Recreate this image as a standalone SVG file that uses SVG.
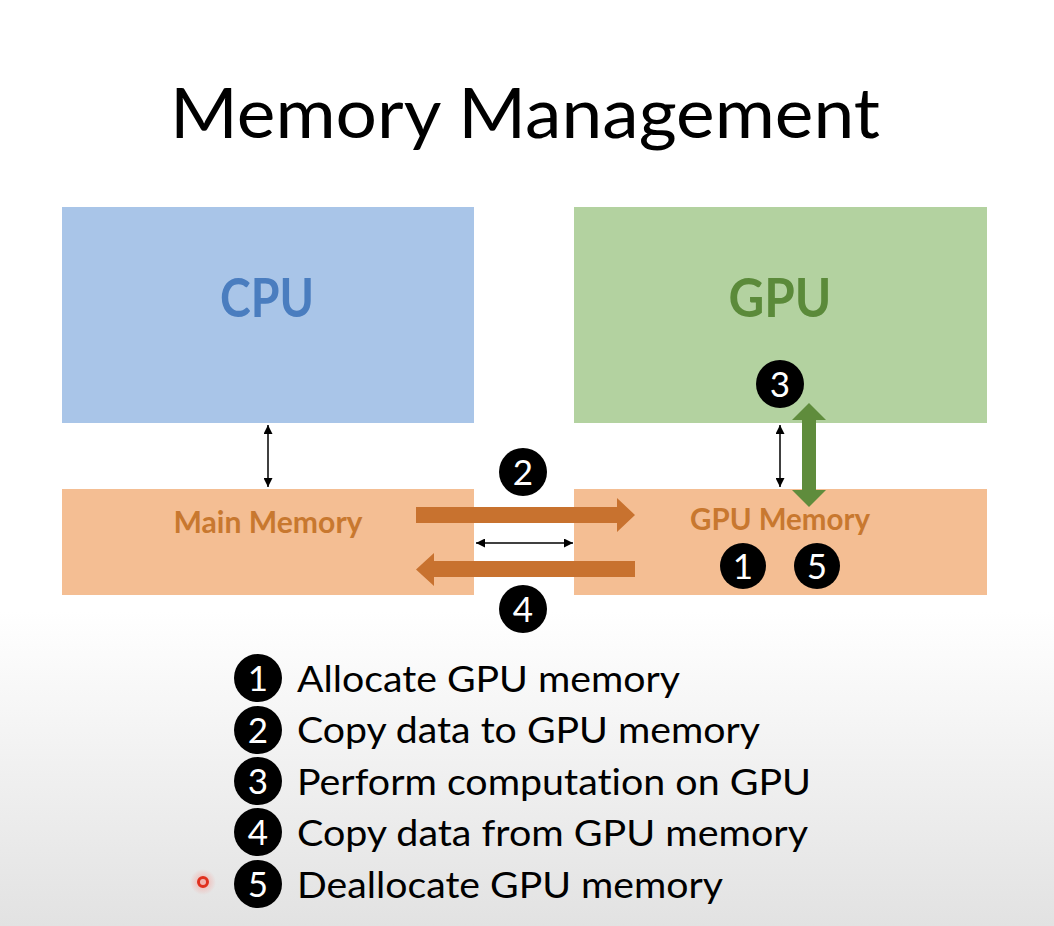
<svg xmlns="http://www.w3.org/2000/svg" width="1054" height="926" viewBox="0 0 1054 926">
<defs>
<linearGradient id="bg" x1="0" y1="0" x2="0" y2="1">
<stop offset="0" stop-color="#ffffff"/>
<stop offset="0.66" stop-color="#ffffff"/>
<stop offset="1" stop-color="#e2e2e2"/>
</linearGradient>
<radialGradient id="glow">
<stop offset="0" stop-color="#f4a6a0" stop-opacity="0.9"/>
<stop offset="1" stop-color="#f4a6a0" stop-opacity="0"/>
</radialGradient>
<marker id="ah" viewBox="0 0 10 10" refX="10" refY="5" markerWidth="9" markerHeight="9" markerUnits="userSpaceOnUse" orient="auto-start-reverse">
<path d="M0,0 L10,5 L0,10 Z" fill="#000"/>
</marker>
</defs>
<style>
text{font-variant-ligatures:none}
.box-cpu{fill:#a9c5e8}
.box-gpu{fill:#b3d2a0}
.box-mem{fill:#f4be93}
.big{font-family:Lato,"Open Sans",sans-serif;font-weight:bold;font-size:53px;text-anchor:middle}
.mem{font-family:Lato,"Open Sans",sans-serif;font-weight:bold;font-size:30px;fill:#c8782f;text-anchor:middle}
.badge{fill:#000}
.num{font-family:Lato,"Open Sans",sans-serif;font-size:35px;fill:#fff;text-anchor:middle}
.item{font-family:Lato,"Open Sans",sans-serif;font-size:37px;fill:#000}
.thin{stroke:#000;stroke-width:1.5;fill:none;marker-start:url(#ah);marker-end:url(#ah)}
</style>
<rect width="1054" height="926" fill="url(#bg)"/>
<text x="525" y="138" font-family="Lato,'Open Sans',sans-serif" font-size="69" text-anchor="middle" textLength="710" lengthAdjust="spacingAndGlyphs" fill="#000">Memory Management</text>

<g id="cpu"><rect class="box-cpu" x="62" y="207" width="412" height="216"/><text class="big" x="267" y="317" fill="#4a7dbf" textLength="94" lengthAdjust="spacingAndGlyphs">CPU</text></g>
<g id="gpu"><rect class="box-gpu" x="574" y="207" width="413" height="216"/><text class="big" x="780" y="317" fill="#5b8a3a" textLength="103" lengthAdjust="spacingAndGlyphs">GPU</text></g>
<g id="main-memory"><rect class="box-mem" x="62" y="489" width="412" height="106"/><text class="mem" x="268" y="533" textLength="189" lengthAdjust="spacingAndGlyphs">Main Memory</text></g>
<g id="gpu-memory"><rect class="box-mem" x="574" y="489" width="413" height="106"/><text class="mem" x="780" y="530" textLength="180" lengthAdjust="spacingAndGlyphs">GPU Memory</text></g>

<g id="connectors">
<line class="thin" x1="268" y1="425" x2="268" y2="487"/>
<line class="thin" x1="780" y1="425" x2="780" y2="487"/>
<line class="thin" x1="476" y1="543" x2="573" y2="543"/>
<polygon fill="#c8722f" points="416,507 617,507 617,498 635,515 617,532 617,523 416,523"/>
<polygon fill="#c8722f" points="635,561 434,561 434,553 416,569.5 434,586 434,577 635,577"/>
<polygon fill="#5f8c3c" points="809,403 826,420 816,420 816,490 826,490 809,507 792,490 802,490 802,420 792,420"/>
</g>

<g id="badges-diagram">
<circle class="badge" cx="523" cy="472" r="24"/><text class="num" x="523" y="485">2</text>
<circle class="badge" cx="523" cy="609" r="24"/><text class="num" x="523" y="622">4</text>
<circle class="badge" cx="780" cy="384" r="24"/><text class="num" x="780" y="397">3</text>
<circle class="badge" cx="743" cy="566" r="23"/><text class="num" x="743" y="579">1</text>
<circle class="badge" cx="817" cy="566" r="23"/><text class="num" x="817" y="579">5</text>
</g>

<g id="legend">
<circle class="badge" cx="258" cy="678" r="24"/><text class="num" x="258" y="691">1</text>
<text class="item" x="297" y="692" textLength="383" lengthAdjust="spacingAndGlyphs">Allocate GPU memory</text>
<circle class="badge" cx="258" cy="730" r="24"/><text class="num" x="258" y="743">2</text>
<text class="item" x="297" y="743" textLength="463" lengthAdjust="spacingAndGlyphs">Copy data to GPU memory</text>
<circle class="badge" cx="258" cy="781" r="24"/><text class="num" x="258" y="794">3</text>
<text class="item" x="297" y="795" textLength="514" lengthAdjust="spacingAndGlyphs">Perform computation on GPU</text>
<circle class="badge" cx="258" cy="832" r="24"/><text class="num" x="258" y="845">4</text>
<text class="item" x="297" y="846" textLength="511" lengthAdjust="spacingAndGlyphs">Copy data from GPU memory</text>
<circle class="badge" cx="258" cy="884" r="24"/><text class="num" x="258" y="897">5</text>
<text class="item" x="297" y="898" textLength="426" lengthAdjust="spacingAndGlyphs">Deallocate GPU memory</text>
</g>

<g id="pointer">
<circle cx="203" cy="882" r="13" fill="url(#glow)"/>
<circle cx="203" cy="882" r="4.5" fill="none" stroke="#e0301e" stroke-width="3"/>
</g>
</svg>
